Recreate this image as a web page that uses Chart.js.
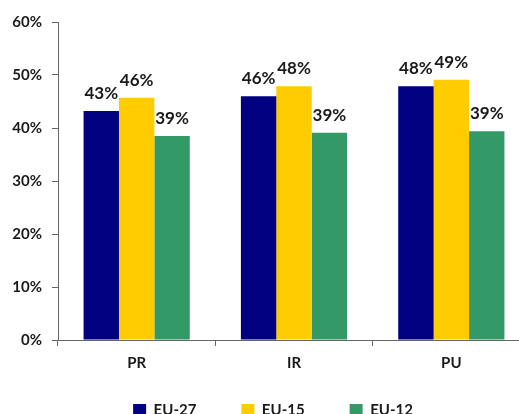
<!DOCTYPE html>
<html>
<head>
<meta charset="utf-8">
<script src="https://cdn.jsdelivr.net/npm/chart.js@4/dist/chart.umd.min.js"></script>
<style>
  html, body { margin: 0; padding: 0; background: #ffffff; overflow: hidden; }
  #wrap { position: relative; width: 540px; height: 428px; }
</style>
</head>
<body>
<div id="wrap"><canvas id="c" width="540" height="428"></canvas></div>
<script>
// Categories and series shares (percent)
const categories = ['PR', 'IR', 'PU'];
const seriesNames = ['EU-27', 'EU-15', 'EU-12'];
const eu27 = [43.2, 46.0, 47.9];
const eu15 = [45.7, 47.9, 49.1];
const eu12 = [38.5, 39.1, 39.4];
const yTicks = [0, 10, 20, 30, 40, 50, 60];

const colors = ['#000080', '#FFCC00', '#339966'];
const textColor = '#1a1a1a';
const axisColor = '#666666';
const fontFamily = 'Lato, "Open Sans", sans-serif';

// Value labels above each bar
const valueLabels = {
  id: 'valueLabels',
  beforeDraw(chart) {
    // let the axis labels run outside their narrow scale boxes
    chart.scales.x._computeLabelArea = () => undefined;
    chart.scales.y._computeLabelArea = () => undefined;
  },
  afterDatasetsDraw(chart) {
    const ctx = chart.ctx;
    ctx.save();
    ctx.font = 'bold 17px ' + fontFamily;
    ctx.fillStyle = textColor;
    ctx.textAlign = 'center';
    ctx.textBaseline = 'alphabetic';
    chart.data.datasets.forEach((ds, i) => {
      const meta = chart.getDatasetMeta(i);
      meta.data.forEach((bar, j) => {
        ctx.fillText(Math.round(ds.data[j]) + '%', bar.x, bar.y - 12);
      });
    });
    ctx.restore();
  }
};

new Chart(document.getElementById('c'), {
  type: 'bar',
  data: {
    labels: categories,
    datasets: [
      { label: seriesNames[0], data: eu27, backgroundColor: colors[0] },
      { label: seriesNames[1], data: eu15, backgroundColor: colors[1] },
      { label: seriesNames[2], data: eu12, backgroundColor: colors[2] }
    ]
  },
  options: {
    responsive: false,
    animation: false,
    devicePixelRatio: 1,
    layout: { padding: { top: 22, right: 10, left: 16, bottom: 0 } },
    datasets: { bar: { categoryPercentage: 0.675, barPercentage: 1.0 } },
    plugins: {
      legend: {
        position: 'bottom',
        labels: {
          boxWidth: 13, boxHeight: 13, padding: 45,
          color: textColor,
          font: { family: fontFamily, size: 15, weight: 'bold' }
        }
      },
      tooltip: { enabled: false }
    },
    scales: {
      x: {
        offset: true,
        grid: { offset: true, drawOnChartArea: false, drawTicks: true, tickLength: 6, color: axisColor },
        border: { color: axisColor, width: 1 },
        ticks: { color: textColor, padding: 8, font: { family: fontFamily, size: 15, weight: 'bold' } },
        afterFit(scale) { scale.height = 18; }
      },
      y: {
        min: 0, max: 60,
        afterBuildTicks(scale) { scale.ticks = yTicks.map(v => ({ value: v })); },
        grid: { drawOnChartArea: false, drawTicks: true, tickLength: 6, color: axisColor },
        border: { color: axisColor, width: 1 },
        ticks: {
          color: textColor, padding: 10,
          font: { family: fontFamily, size: 15, weight: 'bold' },
          callback: v => v + '%'
        },
        afterFit(scale) { scale.width = 42; }
      }
    }
  },
  plugins: [valueLabels]
});
</script>
</body>
</html>
